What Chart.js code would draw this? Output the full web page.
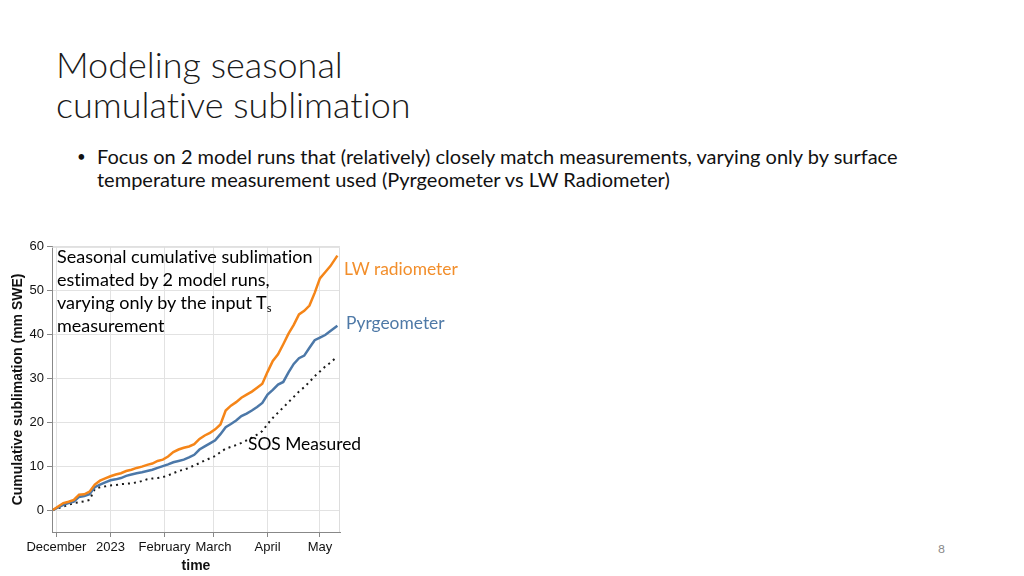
<!DOCTYPE html>
<html>
<head>
<meta charset="utf-8">
<script src="https://cdn.jsdelivr.net/npm/chart.js@4.4.1/dist/chart.umd.min.js"></script>
<style>
  html, body { margin: 0; padding: 0; background: #fff; }
  #slide { position: relative; width: 1024px; height: 576px; overflow: hidden; font-family: Lato, "Noto Sans", sans-serif; color: #000; font-variant-ligatures: none; }
  .title { position: absolute; left: 56px; top: 44px; font-size: 36px; font-weight: 300; line-height: 40px; color: #1a1a1a; }
  .bullet { position: absolute; left: 97px; top: 145px; font-size: 20px; line-height: 23px; color: #111; }
  .bullet::before { content: "\2022"; position: absolute; left: -20px; top: 0; font-size: 15px; }
  #chartWrap { position: absolute; left: 0; top: 236px; width: 352px; height: 340px; }
  .note { position: absolute; font-size: 18px; line-height: 23px; white-space: nowrap; }
  .note.small { font-size: 17.4px; }
  .note sub { font-size: 11px; line-height: 0; vertical-align: -3px; }
  .pagenum { position: absolute; left: 938px; top: 541px; font-size: 12px; color: #8a8a8a; }
</style>
</head>
<body>
<div id="slide">
  <div class="title">Modeling seasonal<br>cumulative sublimation</div>
  <div class="bullet">Focus on 2 model runs that (relatively) closely match measurements, varying only by surface<br>temperature measurement used (Pyrgeometer vs LW Radiometer)</div>
  <div id="chartWrap"><canvas id="sublimationChart" width="352" height="340"></canvas></div>
  <div class="note" style="left:57px; top:245px; color:#000;">Seasonal cumulative sublimation<br>estimated by 2 model runs,<br>varying only by the input T<sub>s</sub><br>measurement</div>
  <div class="note small" style="left:344px; top:257px; color:#f28e2b;">LW radiometer</div>
  <div class="note small" style="left:346px; top:311px; color:#4e79a7;">Pyrgeometer</div>
  <div class="note small" style="left:248px; top:432px; color:#000;">SOS Measured</div>
  <div class="pagenum">8</div>
</div>
<script>
// days since 1 Dec 2022
const days = [-2, 1, 4, 7, 10, 13, 16, 19, 22, 25, 28, 31, 34, 37, 40, 43, 46, 49, 52, 55,
  58, 61, 64, 67, 70, 73, 76, 79, 82, 85, 88, 91, 94, 97, 100, 103, 106, 109, 112, 115,
  118, 121, 124, 127, 130, 133, 136, 139, 142, 145, 148, 151, 154, 157, 161];

const lwRadiometer = [0, 0.8, 1.6, 1.9, 2.3, 3.5, 3.6, 4.2, 5.8, 6.7, 7.2, 7.7, 8.1, 8.4, 8.9, 9.2, 9.6, 9.9, 10.3, 10.6,
  11.2, 11.5, 12.2, 13.2, 13.8, 14.2, 14.5, 15.0, 16.2, 17.0, 17.6, 18.4, 19.5, 22.7, 23.8, 24.6, 25.6, 26.3, 27.0, 27.9,
  28.8, 31.5, 34.0, 35.5, 37.8, 40.2, 42.2, 44.6, 45.4, 46.6, 49.5, 52.8, 54.2, 55.6, 58.0];

const pyrgeometer = [0, 0.6, 1.2, 1.6, 1.9, 3.0, 3.2, 3.6, 5.2, 5.8, 6.3, 6.8, 7.0, 7.3, 7.8, 8.1, 8.4, 8.6, 8.9, 9.2,
  9.6, 10.0, 10.4, 10.9, 11.2, 11.5, 12.0, 12.6, 13.8, 14.5, 15.2, 15.9, 17.3, 18.9, 19.6, 20.4, 21.4, 22.0, 22.7, 23.5,
  24.4, 26.3, 27.4, 28.6, 29.2, 31.4, 33.3, 34.6, 35.2, 37.0, 38.7, 39.3, 39.9, 40.8, 42.0];

const sosMeasured = [0, 0.4, 0.8, 1.2, 1.6, 1.8, 2.0, 2.3, 4.8, 5.2, 5.4, 5.6, 5.7, 5.9, 6.0, 6.1, 6.3, 6.6, 7.0, 7.2,
  7.3, 7.5, 7.9, 8.4, 8.9, 9.2, 9.6, 10.2, 10.7, 11.3, 11.8, 12.3, 13.2, 14.0, 14.4, 14.8, 15.3, 15.9, 16.5, 17.2,
  18.0, 19.6, 21.0, 22.2, 23.4, 24.6, 25.8, 27.0, 28.0, 29.2, 30.5, 31.6, 32.7, 33.6, 35.0];

const monthTickDays = [0, 31, 62, 90, 121, 151];
const monthTickLabels = ['December', '2023', 'February', 'March', 'April', 'May'];
const yTickValues = [0, 10, 20, 30, 40, 50, 60];

function toPoints(values) {
  return values.map((v, i) => ({ x: days[i], y: v }));
}

// light frame on the top and right edges of the plot
const frameEdges = {
  id: 'frameEdges',
  beforeDatasetsDraw(chart) {
    const { ctx, chartArea: a } = chart;
    ctx.save();
    ctx.strokeStyle = '#dddddd';
    ctx.lineWidth = 1;
    ctx.beginPath();
    ctx.moveTo(a.left, a.top + 0.5);
    ctx.lineTo(a.right - 0.5, a.top + 0.5);
    ctx.lineTo(a.right - 0.5, a.bottom);
    ctx.stroke();
    ctx.restore();
  }
};

const axisFont = { family: '"Liberation Sans", Arial, sans-serif', size: 13 };
const titleFont = { family: '"Liberation Sans", Arial, sans-serif', size: 14, weight: 'bold' };

new Chart(document.getElementById('sublimationChart'), {
  type: 'line',
  data: {
    datasets: [
      {
        label: 'LW radiometer',
        data: toPoints(lwRadiometer),
        borderColor: '#f58518',
        borderWidth: 2.5,
        pointRadius: 0,
        tension: 0,
      },
      {
        label: 'Pyrgeometer',
        data: toPoints(pyrgeometer),
        borderColor: '#4c78a8',
        borderWidth: 2.5,
        pointRadius: 0,
        tension: 0,
      },
      {
        label: 'SOS Measured',
        data: toPoints(sosMeasured),
        borderColor: '#1a1a1a',
        borderWidth: 2,
        borderDash: [2, 4],
        pointRadius: 0,
        tension: 0,
      },
    ],
  },
  options: {
    responsive: false,
    animation: false,
    layout: { padding: { top: 10, right: 12, left: 0, bottom: 0 } },
    plugins: {
      legend: { display: false },
      tooltip: { enabled: false },
    },
    scales: {
      x: {
        type: 'linear',
        min: -2.5,
        max: 162.5,
        afterBuildTicks: (scale) => { scale.ticks = monthTickDays.map((v) => ({ value: v })); },
        afterFit: (scale) => { scale.height = 44; },
        ticks: {
          autoSkip: false,
          maxRotation: 0,
          padding: 3,
          color: '#111',
          font: axisFont,
          callback: (value, index) => monthTickLabels[index],
        },
        grid: { color: '#e2e2e2', tickColor: '#888', tickLength: 5 },
        border: { color: '#888' },
        title: { display: true, text: 'time', color: '#111', font: titleFont, padding: { top: 2, bottom: 1 } },
      },
      y: {
        min: -5,
        max: 60,
        afterBuildTicks: (scale) => { scale.ticks = yTickValues.map((v) => ({ value: v })); },
        afterFit: (scale) => { scale.width = 52; },
        ticks: { padding: 3, color: '#111', font: axisFont },
        grid: { color: '#e2e2e2', tickColor: '#888', tickLength: 5 },
        border: { color: '#888' },
        title: { display: true, text: 'Cumulative sublimation (mm SWE)', color: '#111', font: titleFont, padding: { top: 10, bottom: 2 } },
      },
    },
  },
  plugins: [frameEdges],
});
</script>
</body>
</html>
